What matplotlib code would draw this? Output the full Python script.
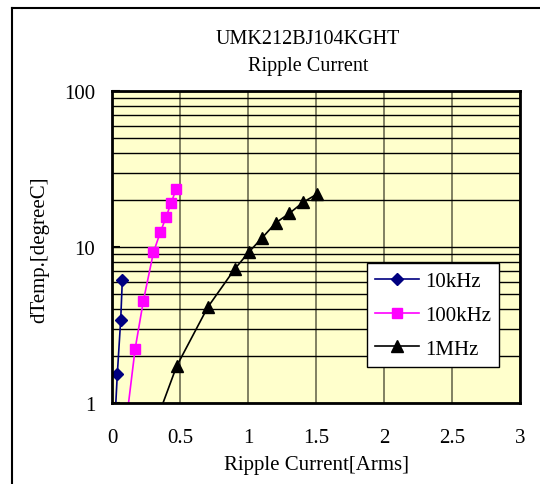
import numpy as np
import matplotlib.pyplot as plt
from matplotlib.lines import Line2D
from matplotlib.ticker import FixedLocator, NullFormatter, LogLocator

plt.rcParams['font.family'] = ['Liberation Serif', 'DejaVu Serif']

# values (first point of each series lies below the axis)
i_10k = [0.015, 0.039, 0.064, 0.076]
t_10k = [0.6, 1.53, 3.42, 6.17]

i_100k = [0.10, 0.17, 0.231, 0.305, 0.355, 0.397, 0.434, 0.471]
t_100k = [0.7, 2.22, 4.53, 9.25, 12.4, 15.5, 19.1, 23.4]

i_1m = [0.29, 0.475, 0.704, 0.902, 1.005, 1.106, 1.205, 1.303, 1.407, 1.51]
t_1m = [0.63, 1.72, 4.11, 7.22, 9.25, 11.5, 14.3, 16.4, 19.4, 21.9]

x_ticks = [0, 0.5, 1, 1.5, 2, 2.5, 3]
x_labels = ["0", "0.5", "1", "1.5", "2", "2.5", "3"]
y_ticks = [1, 10, 100]
y_labels = ["1", "10", "100"]

W, H = 540, 485
fig = plt.figure(figsize=(W / 100, H / 100), dpi=100)
ax = fig.add_axes([112 / W, 1 - 404 / H, 408 / W, 312 / H])
ax.set_facecolor("#FFFFCC")

ax.plot(i_10k, t_10k, color="#000080", marker="D", ms=6.5, lw=1.2, label="10kHz")
ax.plot(i_100k, t_100k, color="#FF00FF", marker="s", ms=7, lw=1.2, label="100kHz")
ax.plot(i_1m, t_1m, color="black", marker="^", ms=8, lw=1.2, label="1MHz")

ax.set_yscale("log")
ax.set_ylim(1, 100)
ax.set_xlim(0, 3)
ax.set_xticks(x_ticks)
ax.set_xticklabels(x_labels)
ax.yaxis.set_major_locator(FixedLocator(y_ticks))
ax.set_yticklabels(y_labels)
ax.yaxis.set_minor_locator(LogLocator(base=10, subs=np.arange(2, 10)))
ax.yaxis.set_minor_formatter(NullFormatter())

ax.grid(True, axis="y", which="both", color="black", lw=1.0)
ax.grid(True, axis="x", which="major", color="#6b6b50", lw=1.2)
ax.set_axisbelow(True)

ax.tick_params(axis="x", length=0, pad=18, labelsize=15)
ax.tick_params(axis="y", which="major", direction="in", length=6, width=1.5, pad=12, labelsize=15)
ax.tick_params(axis="y", which="minor", length=0)
for s in ax.spines.values():
    s.set_linewidth(2)
    s.set_color("black")

ax.legend(loc="upper left", bbox_to_anchor=((366.7 - 112) / 408, (404 - 264.3) / 312),
          frameon=True, fancybox=False, framealpha=1, edgecolor="black",
          fontsize=15, handlelength=2.1, labelspacing=0.68, borderpad=0.4,
          handletextpad=0.3, borderaxespad=0)
ax.get_legend().get_frame().set_linewidth(1.0)

fig.text(308 / W, 1 - 40 / H, "UMK212BJ104KGHT", ha="center", va="center", fontsize=14.5)
fig.text(308 / W, 1 - 67 / H, "Ripple Current", ha="center", va="center", fontsize=14.5)
fig.text(40 / W, 1 - 250 / H, "dTemp.[degreeC]", rotation=90, ha="center", va="center", fontsize=15)
fig.text(316 / W, 1 - 466 / H, "Ripple Current[Arms]", ha="center", va="center", fontsize=15)

# outer chart border (left and top edges visible)
fig.add_artist(Line2D([12 / W, 12 / W], [0, 1 - 9 / H], transform=fig.transFigure, color="black", lw=1.5))
fig.add_artist(Line2D([12 / W, 1], [1 - 9 / H, 1 - 9 / H], transform=fig.transFigure, color="black", lw=1.5))

fig.savefig("out.png", dpi=100)
